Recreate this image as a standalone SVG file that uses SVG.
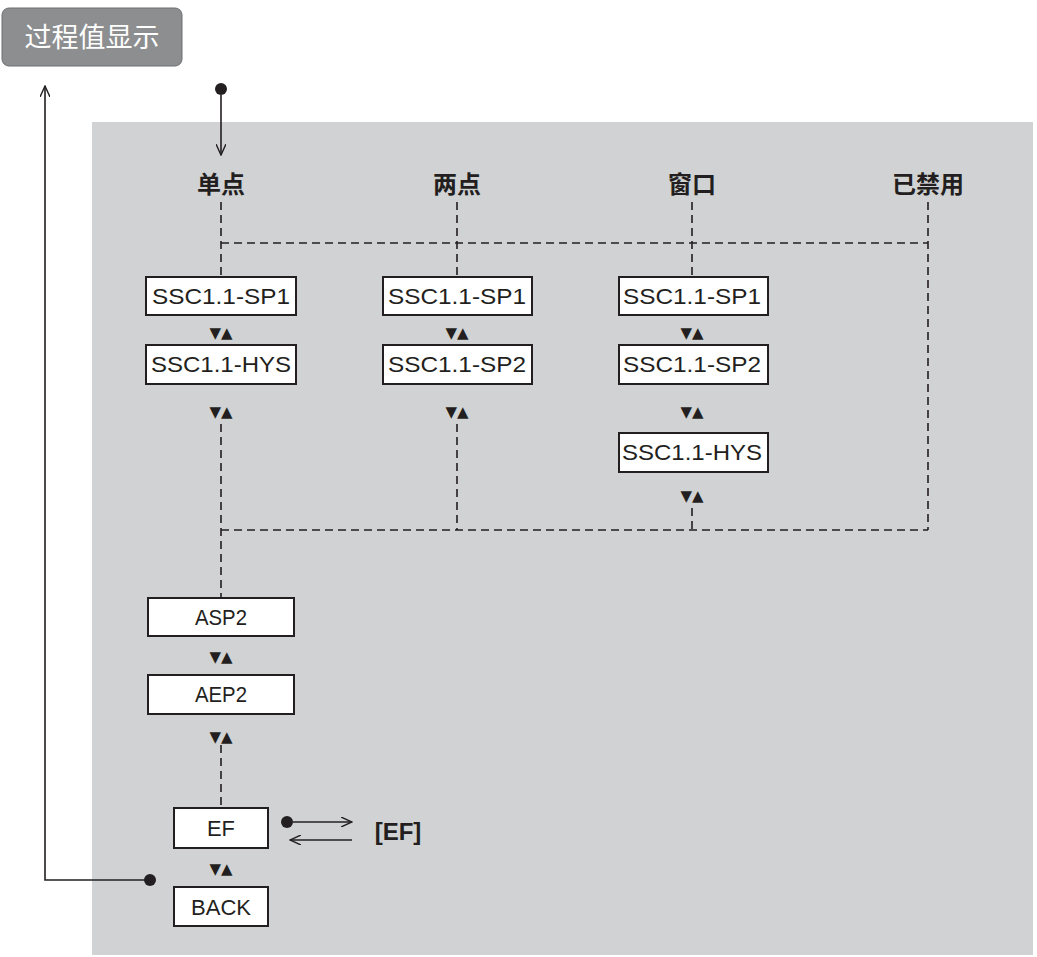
<svg xmlns="http://www.w3.org/2000/svg" width="1037" height="957" viewBox="0 0 1037 957">
<defs>
<marker id="ah" markerWidth="12" markerHeight="10" refX="11" refY="5" orient="auto" markerUnits="userSpaceOnUse"><path d="M0,0 L11,5 L0,10" fill="none" stroke="#231f20" stroke-width="1.4"/></marker>
</defs>
<style>
.b{fill:#fff;stroke:#231f20;stroke-width:2}
.t{font-family:"Liberation Sans",Arial,sans-serif;font-size:22px;fill:#231f20;text-anchor:middle}
.h{font-family:"Noto Sans CJK SC","Liberation Sans",sans-serif;font-size:24px;font-weight:bold;fill:#231f20;text-anchor:middle}
.d{fill:none;stroke:#231f20;stroke-width:1.6;stroke-dasharray:8,5}
.s{fill:none;stroke:#231f20;stroke-width:1.6}
.a{font-family:"DejaVu Sans",sans-serif;font-size:15px;fill:#231f20;text-anchor:middle}
</style>
<rect x="92" y="122" width="941" height="833" fill="#d1d2d4"/>
<g id="title"><rect x="2" y="8" width="180" height="58" rx="7" fill="#8d8e90" stroke="#6d6e70" stroke-width="1"/><text x="92" y="47" font-family="Noto Sans CJK SC,sans-serif" font-size="27" fill="#fff" text-anchor="middle">过程值显示</text></g>
<g id="connectors">
<circle cx="221" cy="89" r="6" fill="#231f20"/>
<line x1="221" y1="95" x2="221" y2="155" class="s" marker-end="url(#ah)"/>
<polyline points="150,880 45,880 45,86" class="s" marker-end="url(#ah)"/>
<circle cx="150" cy="880" r="6" fill="#231f20"/>
<path class="d" d="M221,202 V276 M457,202 V276 M692,202 V276 M928,202 V530 M221,243 H928 M221,424 V598 M457,424 V530 M692,508 V530 M221,530 H928 M221,745 V808"/>
<circle cx="287" cy="822" r="6" fill="#231f20"/>
<line x1="293" y1="822" x2="352" y2="822" class="s" marker-end="url(#ah)"/>
<line x1="352" y1="840" x2="290" y2="840" class="s" marker-end="url(#ah)"/>
</g>
<g id="labels">
<text class="h" x="221" y="193">单点</text>
<text class="h" x="457" y="193">两点</text>
<text class="h" x="692" y="193">窗口</text>
<text class="h" x="928" y="193">已禁用</text>
<text x="398" y="840" font-family="Liberation Sans,Arial,sans-serif" font-size="24" font-weight="bold" fill="#231f20" text-anchor="middle">[EF]</text>
</g>
<g id="n1"><rect class="b" x="146" y="277" width="150" height="38"/><text class="t" x="221" y="304" textLength="138" lengthAdjust="spacingAndGlyphs">SSC1.1-SP1</text></g>
<text class="a" x="221" y="338">▼▲</text>
<g id="n2"><rect class="b" x="146" y="345" width="150" height="39"/><text class="t" x="221" y="372" textLength="140" lengthAdjust="spacingAndGlyphs">SSC1.1-HYS</text></g>
<text class="a" x="221" y="417">▼▲</text>
<g id="n3"><rect class="b" x="383" y="277" width="149" height="38"/><text class="t" x="457" y="304" textLength="138" lengthAdjust="spacingAndGlyphs">SSC1.1-SP1</text></g>
<text class="a" x="457" y="338">▼▲</text>
<g id="n4"><rect class="b" x="383" y="345" width="149" height="39"/><text class="t" x="457" y="372" textLength="138" lengthAdjust="spacingAndGlyphs">SSC1.1-SP2</text></g>
<text class="a" x="457" y="417">▼▲</text>
<g id="n5"><rect class="b" x="619" y="277" width="149" height="38"/><text class="t" x="692" y="304" textLength="138" lengthAdjust="spacingAndGlyphs">SSC1.1-SP1</text></g>
<text class="a" x="692" y="338">▼▲</text>
<g id="n6"><rect class="b" x="619" y="345" width="149" height="39"/><text class="t" x="692" y="372" textLength="138" lengthAdjust="spacingAndGlyphs">SSC1.1-SP2</text></g>
<text class="a" x="692" y="417">▼▲</text>
<g id="n7"><rect class="b" x="619" y="433" width="149" height="39"/><text class="t" x="692" y="460" textLength="140" lengthAdjust="spacingAndGlyphs">SSC1.1-HYS</text></g>
<text class="a" x="692" y="501">▼▲</text>
<g id="n8"><rect class="b" x="148" y="598" width="146" height="38"/><text class="t" x="221" y="625" textLength="52" lengthAdjust="spacingAndGlyphs">ASP2</text></g>
<text class="a" x="221" y="662">▼▲</text>
<g id="n9"><rect class="b" x="148" y="675" width="146" height="39"/><text class="t" x="221" y="702" textLength="52" lengthAdjust="spacingAndGlyphs">AEP2</text></g>
<text class="a" x="221" y="742">▼▲</text>
<g id="n10"><rect class="b" x="174" y="808" width="94" height="40"/><text class="t" x="221" y="836" textLength="28" lengthAdjust="spacingAndGlyphs">EF</text></g>
<text class="a" x="221" y="874">▼▲</text>
<g id="n11"><rect class="b" x="174" y="887" width="94" height="39"/><text class="t" x="221" y="915" textLength="60" lengthAdjust="spacingAndGlyphs">BACK</text></g>
</svg>
